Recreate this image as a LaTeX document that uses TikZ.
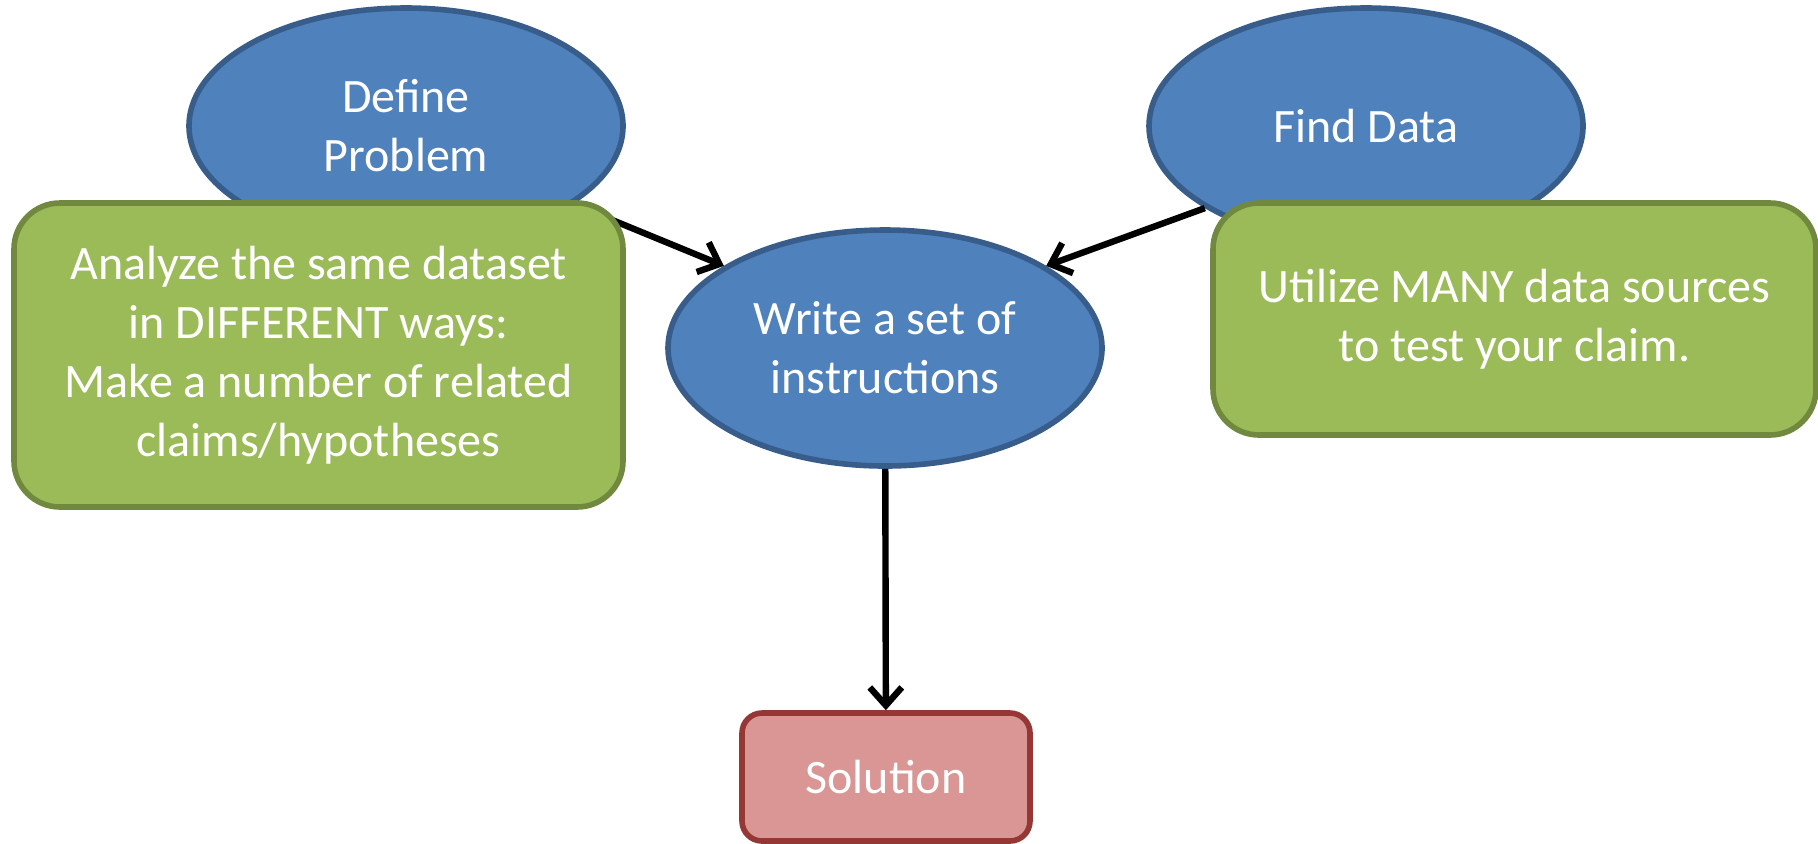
\documentclass[tikz,border=0pt]{standalone}
\usepackage{fontspec}
\setmainfont{Carlito}
\usetikzlibrary{shapes.geometric,arrows.meta}
\definecolor{bfill}{HTML}{4F81BD}
\definecolor{bline}{HTML}{385D8A}
\definecolor{gfill}{HTML}{9BBB59}
\definecolor{gline}{HTML}{71893F}
\definecolor{rfill}{HTML}{D99694}
\definecolor{rline}{HTML}{953735}
\tikzset{
  oval/.style={ellipse, draw=bline, fill=bfill, line width=2.8pt, minimum width=217pt, minimum height=118pt, inner sep=0pt, text=white, align=center, font=\fontsize{24}{29.5}\selectfont},
  gbox/.style={rectangle, rounded corners=23pt, draw=gline, fill=gfill, line width=2.8pt, inner sep=0pt, text=white, align=center, font=\fontsize{24}{29.5}\selectfont},
  rbox/.style={rectangle, rounded corners=10pt, draw=rline, fill=rfill, line width=2.8pt, inner sep=0pt, text=white, align=center, font=\fontsize{24}{29.5}\selectfont},
  conn/.style={line width=3.2pt, -{Straight Barb[length=9pt,width=16pt,line width=3.2pt]}}
}
\begin{document}
\begin{tikzpicture}[x=0.5pt,y=-0.5pt]
\useasboundingbox (0,0) rectangle (1818,843);
\node[oval] (def) at (406,126) {Define\\Problem};
\node[oval] (find) at (1366,126) {Find Data};
\node[oval] (wr) at (885,348) {Write a set of\\instructions};
\draw[conn] (def.-25) -- (wr.153);
\draw[conn] (find.207) -- (wr.27);
\node[gbox, minimum width=304.5pt, minimum height=152pt] (ga) at (318.5,355) {Analyze the same dataset\\in DIFFERENT ways:\\Make a number of related\\claims/hypotheses};
\node[gbox, minimum width=301.5pt, minimum height=116pt] (gb) at (1514.5,319) {Utilize MANY data sources\\to test your claim.};
\node[rbox, minimum width=144pt, minimum height=64pt] (sol) at (886,777) {Solution};
\draw[conn] (wr) -- (sol);
\end{tikzpicture}
\end{document}
